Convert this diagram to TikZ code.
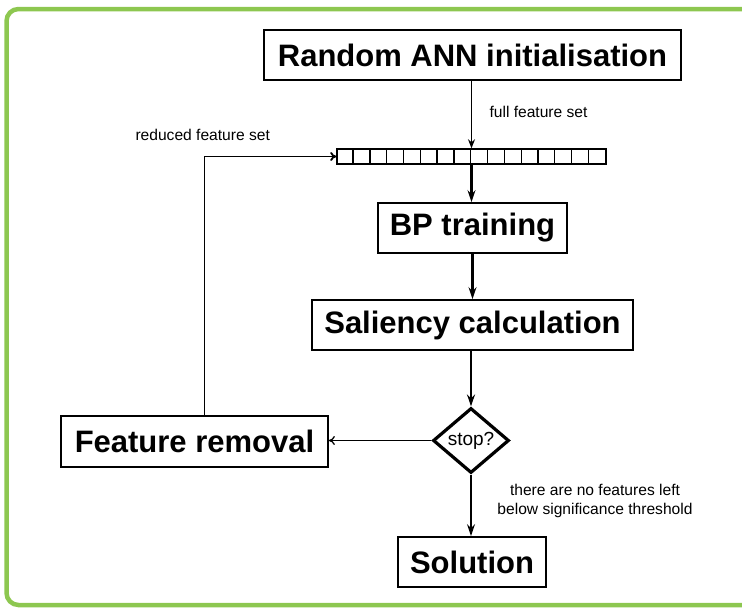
\documentclass[tikz,border=0pt]{standalone}
\usepackage{fontspec}
\setsansfont{Liberation Sans}
\usepackage{tikz}
\usetikzlibrary{arrows.meta,positioning,shapes.geometric}

\definecolor{framegreen}{RGB}{141,199,80}

\begin{document}
\begin{tikzpicture}[
    x=1pt, y=-1pt,
    font=\sffamily,
    stage/.style={rectangle, draw, line width=1.8pt, fill=white, minimum height=50pt,
                  inner sep=0pt, font=\fontsize{31}{34}\selectfont\bfseries\sffamily},
    decision/.style={diamond, draw, line width=3.2pt, fill=white, aspect=1.15,
                     minimum width=76pt, minimum height=65pt, inner sep=0pt,
                     font=\fontsize{19}{21}\selectfont\sffamily},
    thick arrow/.style={-{Stealth[length=12pt,width=8pt,inset=4pt]}, line width=2.6pt},
    thin arrow/.style={-{Stealth[length=9pt,width=7pt,inset=3pt]}, line width=1.5pt},
    barb arrow/.style={-{To[length=6pt,width=9pt]}, line width=1.3pt},
    note/.style={font=\fontsize{15.6}{19.5}\selectfont\sffamily, align=center}
  ]

  % Page size and the green frame round the chart
  \useasboundingbox (0,0) rectangle (742,608);
  \clip (0,0) rectangle (742,608);
  \draw[framegreen, line width=4.5pt, rounded corners=12pt] (6.5,9) rectangle (780,605);

  % Main column of stages
  \node[stage, minimum width=417pt] (init) at (472.5,55) {Random ANN initialisation};
  \node[stage, minimum width=189pt] (bp) at (472.5,228) {BP training};
  \node[stage, minimum width=321pt] (sal) at (472.5,325) {Saliency calculation};
  \node[decision] (stop) at (471,440.5) {stop?};
  \node[stage, minimum width=148pt] (sol) at (472,562) {Solution};
  \node[stage, minimum width=267pt, minimum height=51pt] (rem) at (194.5,441.5) {Feature removal};

  % Feature vector, 16 cells
  \node[rectangle, draw, line width=1.5pt, minimum width=269pt, minimum height=15pt,
        inner sep=0pt] (feat) at (471.5,156.5) {};
  \foreach \i in {1,...,15}
    \draw[line width=1.3pt] ([xshift=\i*16.8125pt]feat.north west) -- ([xshift=\i*16.8125pt]feat.south west);

  % Forward flow
  \draw[thin arrow] (init.south -| feat.north) -- (feat.north);
  \draw[thick arrow] (feat.south) -- (bp.north -| feat.south);
  \draw[thick arrow] (bp) -- (sal);
  \draw[thick arrow] (sal.south -| stop.north) -- (stop.north);
  \draw[thick arrow] (stop.south) -- (sol.north -| stop.south);

  % Loop back through feature removal
  \coordinate (corner) at (204.5,156.5);
  \draw[barb arrow] (stop.west) -- (rem.east |- stop.west);
  \draw[barb arrow, line width=1.8pt] (rem.north -| corner) -- (corner) -- (feat.west);

  % Labels
  \node[note, anchor=west] (fullset) at (486,112) {full feature set};
  \node[note, anchor=west] (redset) at (132,135) {reduced feature set};
  \node[note] (nofeat) at (595,501) {there are no features left\\below significance threshold};

\end{tikzpicture}
\end{document}
